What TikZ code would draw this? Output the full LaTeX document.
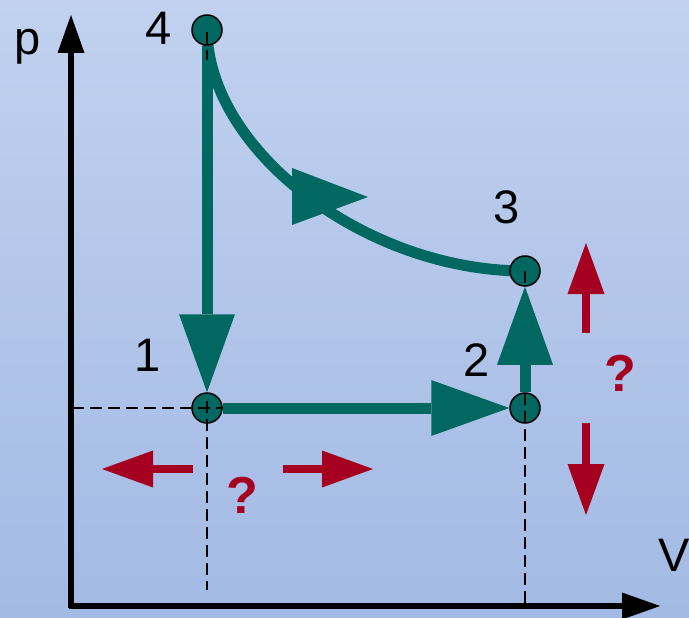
\documentclass[tikz,border=0pt]{standalone}
\usepackage{fontspec}
\setmainfont{Liberation Sans}
\usetikzlibrary{arrows.meta}
\definecolor{teal0}{RGB}{0,104,96}
\definecolor{red0}{RGB}{166,0,33}
\definecolor{bgtop}{RGB}{193,209,239}
\definecolor{bgbot}{RGB}{163,186,228}
\pgfdeclarelayer{bgl}
\pgfdeclarelayer{back}
\pgfsetlayers{bgl,back,main}
\begin{document}
\begin{tikzpicture}[x=1pt,y=-1pt,
  state/.style={circle,fill=teal0,draw=black,line width=1.5pt,minimum size=30pt,inner sep=0pt},
  proc/.style={draw=teal0,line width=11pt},
  bighead/.style={-{Triangle[length=78pt,width=56pt,line width=0pt]}},
  axis/.style={draw=black,line width=5.5pt,-{Triangle[length=38pt,width=27pt,line width=0pt]}},
  guide/.style={draw=black,line width=1.8pt,dash pattern=on 12pt off 6pt},
  hint/.style={draw=red0,line width=8pt,-{Triangle[length=51pt,width=37pt,line width=0pt]}},
  num/.style={font=\fontsize{47}{50}\selectfont,inner sep=0pt},
  qm/.style={font=\fontsize{52}{54}\selectfont\bfseries,text=red0,inner sep=0pt}]
\useasboundingbox (0,0) rectangle (689,618);
\begin{pgfonlayer}{bgl}
\shade[top color=bgtop,bottom color=bgbot] (0,0) rectangle (689,618);
\end{pgfonlayer}

% states
\node[state] (p1) at (207,408) {};
\node[state] (p2) at (525,408) {};
\node[state] (p3) at (525,271) {};
\node[state] (p4) at (207,30) {};

% axes
\coordinate (ybot) at (71,608);
\coordinate (ytip) at (71,15);
\coordinate (xleft) at (69,606);
\coordinate (xtip) at (660,606);

\begin{pgfonlayer}{back}
\draw[axis] (ybot) -- (ytip);
\draw[axis] (xleft) -- (xtip);
\draw[proc,bighead] (p4) -- (p1);
\draw[proc,bighead] (p1) -- (p2);
\draw[proc,bighead] (p2) -- (p3);
\draw[proc] (p3.center) .. controls (365,271) and (208,150) .. (p4.center);
\fill[teal0] (292,168) -- (368,197) -- (292,225) -- cycle;
\end{pgfonlayer}

% guide lines
\coordinate (g1) at (72,408);
\coordinate (g2) at (207,401);
\coordinate (g3) at (207,590);
\coordinate (g4) at (525,393);
\coordinate (g5) at (525,605);
\coordinate (g6) at (207,32);
\coordinate (g7) at (207,60);
\draw[guide] (g1) -- (p1.east);
\draw[guide] (g2) -- (g3);
\draw[guide] (g4) -- (g5);
\draw[guide] (p3.center) -- (p3.south);
\draw[guide] (g6) -- (g7);

% labels
\node[num] (lp) at (27.5,46.5) {p};
\node[num] (lV) at (674,555) {V};
\node[num] (l4) at (159,28) {4};
\node[num] (l3) at (507,207) {3};
\node[num] (l1) at (148,355) {1};
\node[num] (l2) at (477,360) {2};

% red hints
\coordinate (h1a) at (193,469);
\coordinate (h1b) at (102,469);
\coordinate (h2a) at (283,469);
\coordinate (h2b) at (373,469);
\coordinate (h3a) at (586,333);
\coordinate (h3b) at (586,243);
\coordinate (h4a) at (586,423);
\coordinate (h4b) at (586,515);
\draw[hint] (h1a) -- (h1b);
\draw[hint] (h2a) -- (h2b);
\draw[hint] (h3a) -- (h3b);
\draw[hint] (h4a) -- (h4b);
\node[qm] (q1) at (242,495) {?};
\node[qm] (q2) at (620,373) {?};
\end{tikzpicture}
\end{document}
